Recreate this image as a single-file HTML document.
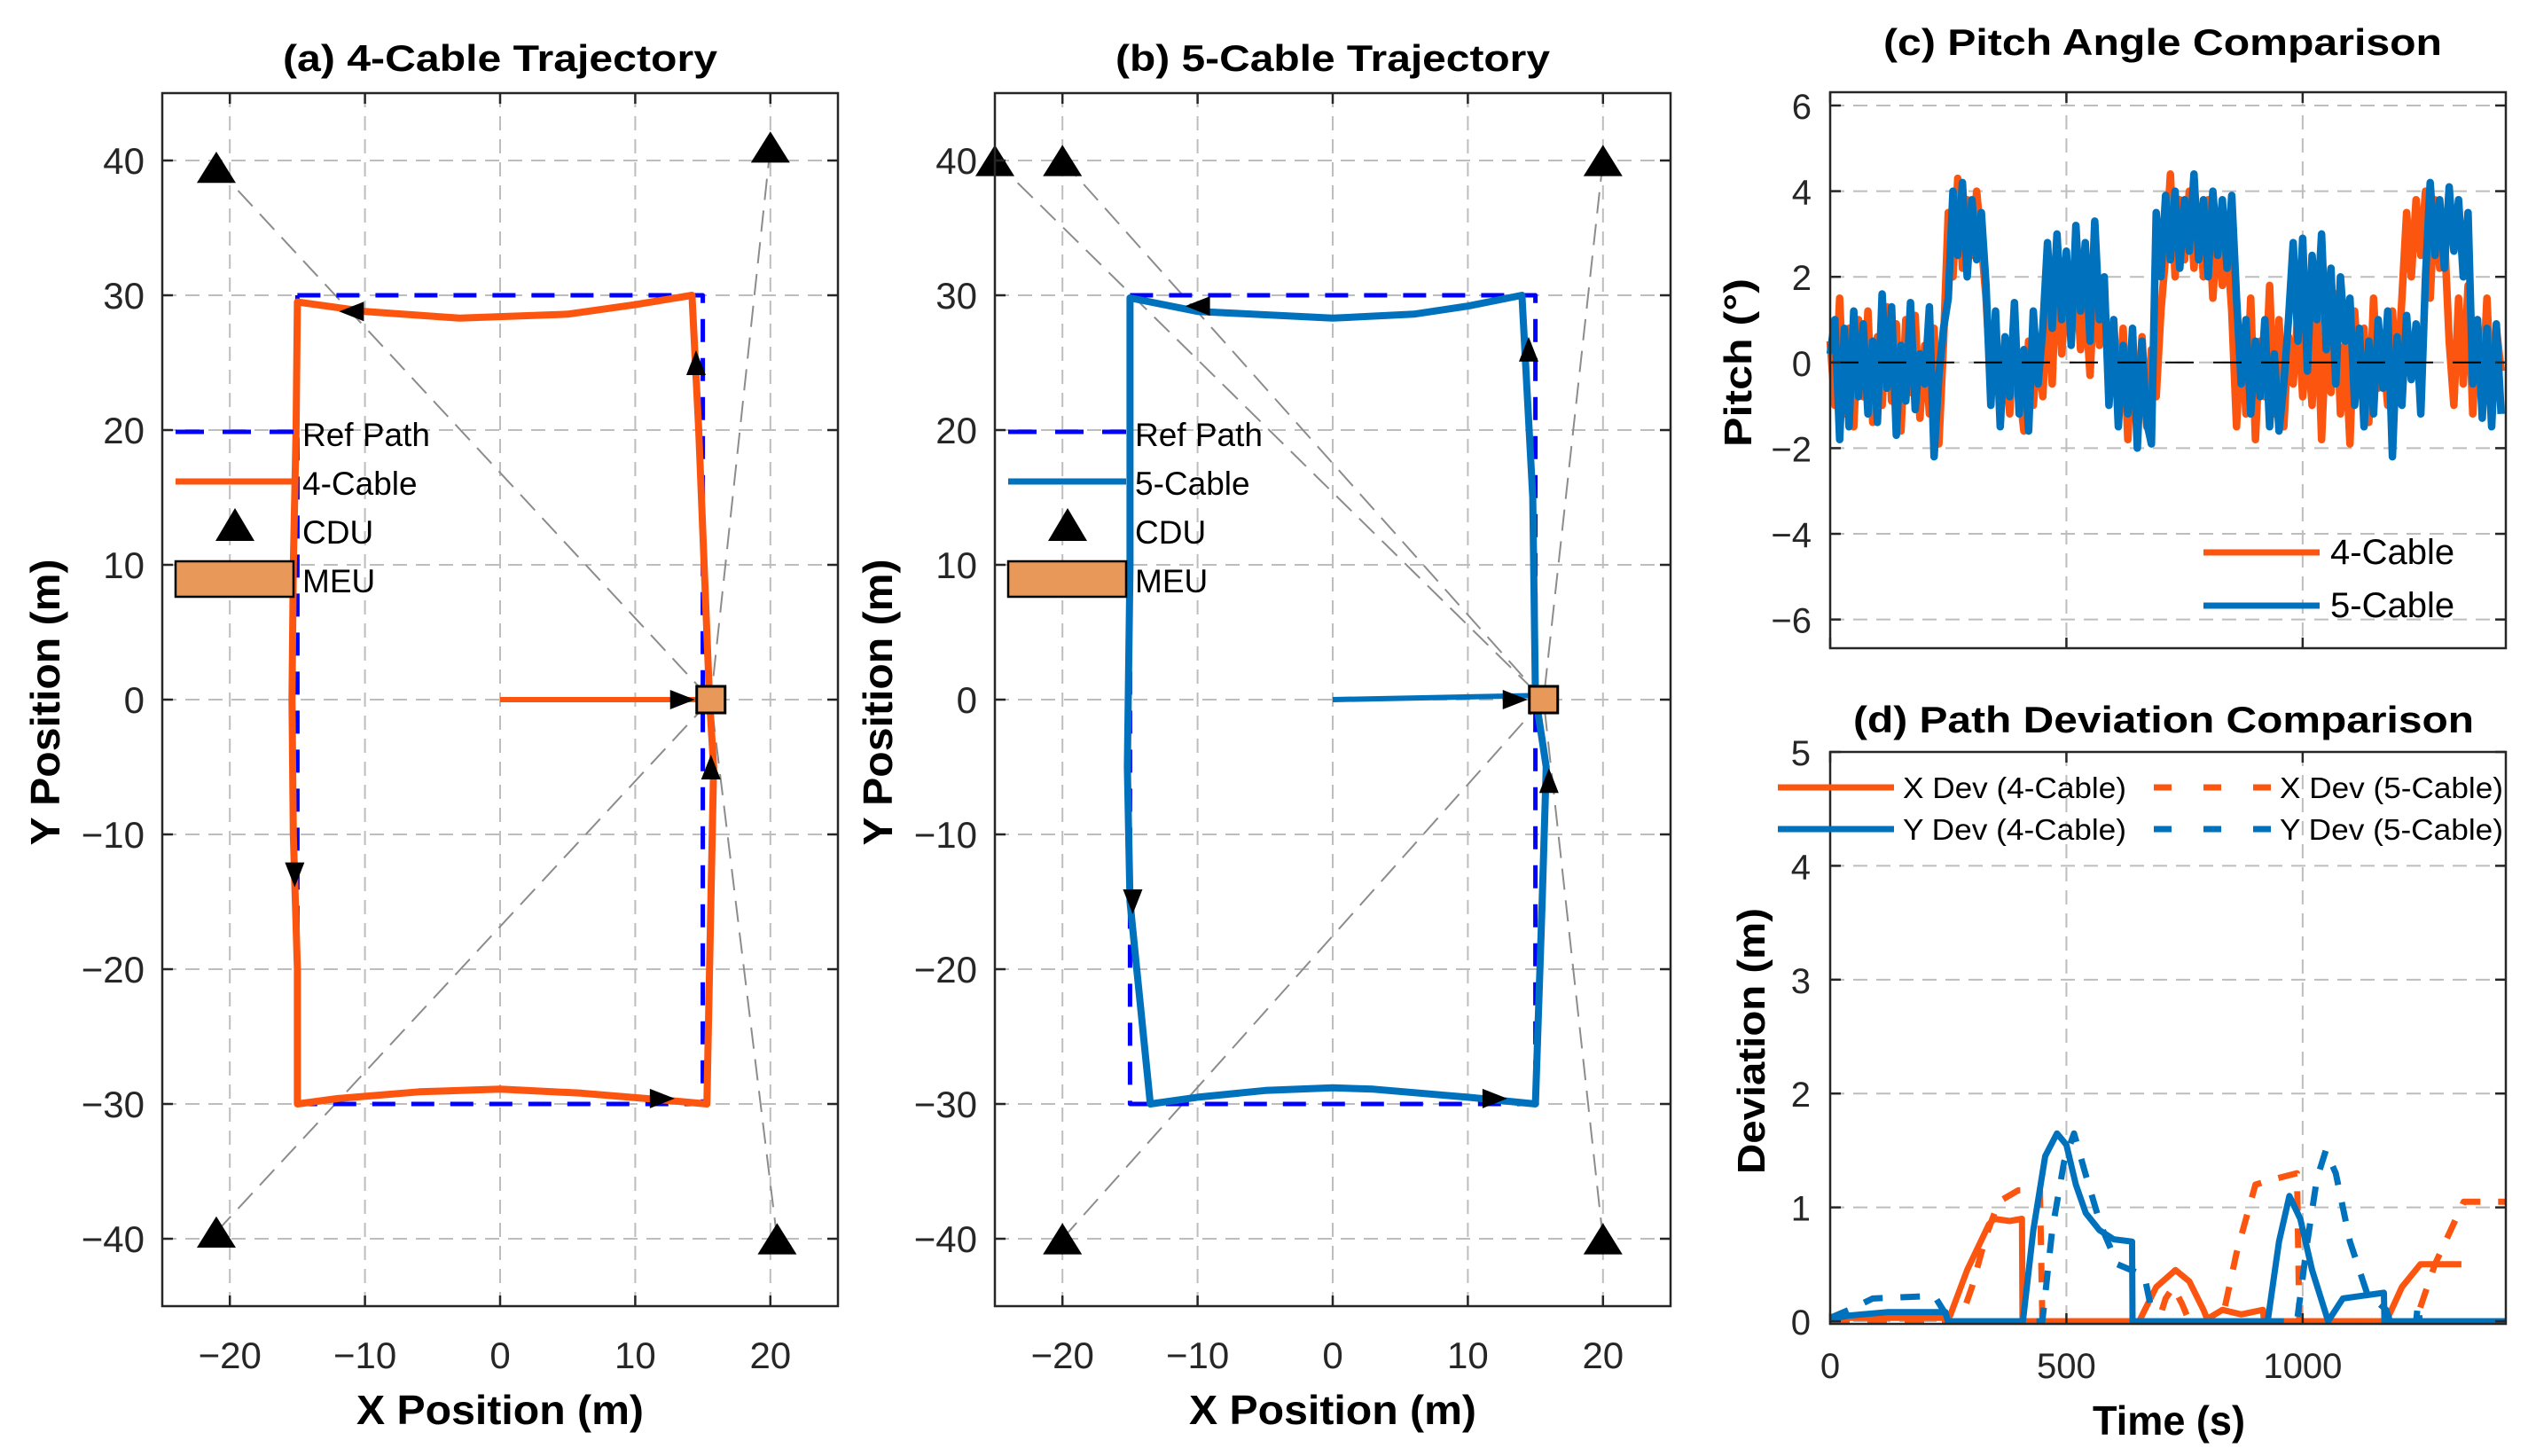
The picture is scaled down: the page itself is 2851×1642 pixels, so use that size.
<!DOCTYPE html>
<html><head><meta charset="utf-8">
<style>
html,body{margin:0;padding:0;background:#fff;}
svg{display:block;font-family:"Liberation Sans",Arial,sans-serif;}
</style></head>
<body>
<svg id="fig" xmlns="http://www.w3.org/2000/svg" width="2851" height="1642" viewBox="0 0 2851 1642"></svg>
<script>
// ---------- data ----------
const cdu4X = [-21, 20, -21, 20.5];
const cdu4Y = [39.5, 41, -39.5, -40];
const cdu5X = [-25, -20, 20, -20, 20];
const cdu5Y = [40, 40, 40, -40, -40];
const meuXY = [15.6, 0];
const refX = [-15, 15, 15, -15, -15];
const refY = [30, 30, -30, -30, 30];
const start4X = [0, 15.4];
const start4Y = [0, 0];
const traj4X = [15.5,15.8,15.6,15.3,12,6,0,-6,-12,-15,-15,-15.3,-15.4,-15.3,-15.1,-15,-10,-3,5,10,14.2,14.7,15.1,15.5];
const traj4Y = [0,-5,-15,-30,-29.7,-29.2,-28.9,-29.1,-29.6,-30,-20,-10,0,10,20,29.5,28.8,28.3,28.6,29.3,30,20,10,0];
const arr4X = [-11, 14.5, -15.2, 12, 15.6, 13.5];
const arr4Y = [28.8, 25, -13, -29.6, -5, 0];
const arr4Ang = [180, -90, 90, 0, -90, 0];
const start5X = [0, 15];
const start5Y = [0, 0.3];
const traj5X = [15,15.8,15.5,15,10,3,0,-5,-10,-13.5,-14.5,-15,-15.2,-15,-15,-10,0,6,10,14,14.8,15];
const traj5Y = [0.3,-5,-15,-30,-29.5,-28.9,-28.8,-29,-29.5,-30,-20,-15,-5,10,29.8,28.8,28.3,28.6,29.2,30,15,0.3];
const arr5X = [-10, 14.5, -14.8, 12, 16, 13.5];
const arr5Y = [29.2, 26, -15, -29.6, -6, 0];
const arr5Ang = [180, -90, 90, 0, -90, 0];

const pitchT0 = 0, pitchDt = 10;
const pitch4 = [0.5,-1,1.5,-1.2,0.8,-1.5,1,-0.8,1.2,-1.4,0.6,-1,1.3,-0.9,0.9,-1.6,1,-0.7,1.1,-1.3,0.4,-1.2,0.8,-1.9,0.5,
3.5,2,4.3,2.2,3.8,2.5,4,2.8,1.5,
-0.5,0.5,-1,0.3,-1.2,0.8,-0.6,-1.6,0.5,-1,0.4,-0.8,
1.5,-0.5,2.5,0.2,1.8,0.5,2.2,0.3,1.5,-0.3,2,0.4,1.2,-0.2,1,
-1,0.8,-1.8,0.5,-1.2,0.6,-1.5,0.3,-0.8,1.2,
2.5,4.4,2,3.8,2.4,4,2.2,3.5,2,3.8,1.5,3.2,1.8,2.8,1.2,
-1.5,0.8,-1.2,1.5,-1.8,0.5,-0.8,1.8,-1.2,1,-1.5,0.6,-0.5,1.2,-0.8,
0.5,-1,1.5,-1.8,0.8,-0.7,1.6,-1.2,0.4,-1.9,1.2,-0.5,0.8,-1.4,1.5,-0.6,0.3,-1,1.2,-0.5,
1.5,3.5,2,3.8,2.5,4,1.5,3.8,2.2,3,
0.5,-1,1.5,-0.5,1.8,-1.2,1,-0.8,1.5,-1,0.8,-0.2];
const pitch5 = [0.2,1,-1.8,0.8,-1.5,1.2,-0.8,0.9,-1.2,0.5,-1.4,1.6,-0.6,1.3,-1.7,0.4,-0.9,1.4,-1.1,0.2,-0.5,1.3,-2.2,-0.3,0.8,
1.5,4,2.5,4.2,2,3.8,2.4,3.5,1.8,
-1,1.2,-1.5,0.6,-0.8,1.4,-1.2,0.3,-1.6,1.2,-0.5,0.8,
2.8,0.8,3,1,2.6,0.4,3.2,1.2,2.8,0.5,3.3,1,2,
-1,1,-1.5,0.4,-1.2,0.8,-2,0.5,-1.4,-1.9,
3.5,2,3.9,2.4,4,2.2,3.8,2.6,4.4,2.4,3.8,2,4,2.5,3.8,2.2,3.9,1.5,
-0.5,1,-1.2,0.5,-0.8,1,-1.5,0.2,-1.6,-0.5,
1,2.8,0.5,2.9,-0.2,2.5,1,3,0.3,2.2,-0.5,2,0.5,1.5,
-1,0.8,-1.5,0.5,-1.2,1,-0.6,1.2,-2.2,0.6,-1,1.1,-0.4,0.9,-1.2,
2,4.2,2.5,3.8,2.2,4.1,2.6,3.8,2,3.5,
-0.5,1,-1.3,0.8,-1.5,0.9,-1.2];

const xd4T = [0,250,254,290,336,347,380,406,407,654,690,731,760,790,798,830,870,916,918,1177,1210,1249,1336];
const xd4V = [0.03,0.03,0.05,0.45,0.85,0.9,0.88,0.9,0,0,0.3,0.45,0.35,0.1,0.02,0.1,0.06,0.1,0,0,0.3,0.5,0.5];
const xd5T = [0,275,300,330,357,398,444,449,695,710,726,745,760,829,860,900,941,988,993,1239,1280,1341,1430];
const xd5V = [0,0,0.3,0.75,1.05,1.15,1.15,0,0,0.2,0.3,0.15,0,0,0.6,1.2,1.25,1.3,0,0,0.5,1.05,1.05];
const yd4T = [0,40,120,244,249,408,430,455,480,500,520,541,570,600,639,640,926,950,972,995,1020,1054,1085,1172,1173,1430];
const yd4V = [0.02,0.05,0.08,0.08,0,0,0.8,1.45,1.65,1.55,1.2,0.95,0.8,0.72,0.7,0,0,0.7,1.1,0.9,0.45,0,0.2,0.25,0,0];
const yd5T = [0,40,90,203,224,254,449,470,495,516,540,572,608,665,685,988,1010,1030,1049,1070,1100,1136,1177,1185,1240,1244,1248,1430];
const yd5V = [0.03,0.1,0.2,0.22,0.2,0,0,0.8,1.4,1.65,1.3,0.85,0.5,0.4,0,0,0.7,1.25,1.5,1.3,0.7,0.25,0.1,0,0,0.15,0,0];

const trajTicksX = [-20,-10,0,10,20];
const trajTicksY = [-40,-30,-20,-10,0,10,20,30,40];
const pitchTicksY = [-6,-4,-2,0,2,4,6];
const timeTicks = [0,500,1000];
const devTicksY = [0,1,2,3,4,5];

// ---------- helpers ----------
const NS = "http://www.w3.org/2000/svg";
const svg = document.getElementById('fig');
function mk(tag, attrs, parent){
  const e = document.createElementNS(NS, tag);
  for (const k in attrs) e.setAttribute(k, attrs[k]);
  (parent||svg).appendChild(e);
  return e;
}
function axis(L,R,T,B,x0,x1,y0,y1){
  return {L,R,T,B,sx:v=>L+(v-x0)/(x1-x0)*(R-L),sy:v=>B-(v-y0)/(y1-y0)*(B-T)};
}
const ORANGE="#fc5510", BLUE="#0072bd";
const A = axis(183,945,105,1473,-25,25,-45,45);
const Bp = axis(1122,1884,105,1473,-25,25,-45,45);
const C = axis(2064,2826,104,731,0,1430,-6.67,6.31);
const D = axis(2064,2826,848,1493,0,1430,-0.023,5.0);

function grid(ax, xs, ys, name){
  const g = mk('g',{});
  
  
  xs.forEach(v=>{ mk('line',{x1:ax.sx(v),x2:ax.sx(v),y1:ax.T,y2:ax.B,stroke:'#bdbdbd','stroke-width':2,'stroke-dasharray':'16 10'},g); });
  ys.forEach(v=>{ mk('line',{x1:ax.L,x2:ax.R,y1:ax.sy(v),y2:ax.sy(v),stroke:'#bdbdbd','stroke-width':2,'stroke-dasharray':'16 10'},g); });
}
function frame(ax, xs, ys, name){
  const r = mk('rect',{x:ax.L,y:ax.T,width:ax.R-ax.L,height:ax.B-ax.T,fill:'none',stroke:'#262626','stroke-width':2.5});
  
  
  const g = mk('g',{stroke:'#262626','stroke-width':2.5});
  
  
  xs.forEach(v=>{ const x=ax.sx(v); mk('line',{x1:x,x2:x,y1:ax.B,y2:ax.B-12},g); mk('line',{x1:x,x2:x,y1:ax.T,y2:ax.T+12},g); });
  ys.forEach(v=>{ const y=ax.sy(v); mk('line',{x1:ax.L,x2:ax.L+12,y1:y,y2:y},g); mk('line',{x1:ax.R,x2:ax.R-12,y1:y,y2:y},g); });
}
function fmt(v){ return v<0 ? '\u2212'+Math.abs(v) : String(v); }
function tickLabels(ax, xs, ys, xBase, yRight, name, fs){
  xs.forEach(v=>{
    const t = mk('text',{x:ax.sx(v),y:xBase,'font-size':fs,'text-anchor':'middle',fill:'#262626'});
    t.textContent = fmt(v);
    
    
  });
  ys.forEach(v=>{
    const t = mk('text',{x:yRight,y:ax.sy(v)+15,'font-size':fs,'text-anchor':'end',fill:'#262626'});
    t.textContent = fmt(v);
    
    
  });
}
function label(txt,x,y,fs,len,rot,name,weight){
  const t = mk('text',{x:x,y:y,'font-size':fs,'font-weight':weight||'bold','text-anchor':'middle',fill:'#000',textLength:len,lengthAdjust:'spacingAndGlyphs'});
  if(rot) t.setAttribute('transform','rotate(-90 '+x+' '+y+')');
  t.textContent = txt;
  
  
  return t;
}
function poly(ax, xs, ys, attrs, name){
  const pts = xs.map((x,i)=>ax.sx(x).toFixed(1)+','+ax.sy(ys[i]).toFixed(1)).join(' ');
  const a = Object.assign({points:pts,fill:'none','stroke-linejoin':'round'},attrs);
  const p = mk('polyline',a);
  
  
  return p;
}
function tri(cx,cy,w,name){
  const h=w*0.8;
  const p = mk('polygon',{points:(cx-w/2)+','+(cy+h/2)+' '+(cx+w/2)+','+(cy+h/2)+' '+cx+','+(cy-h/2),fill:'#000'});
  
  
}
function arrow(cx,cy,ang,name){
  const p = mk('polygon',{points:'14,0 -14,-11 -14,11',fill:'#000',transform:'translate('+cx+' '+cy+') rotate('+ang+')'});
  
  
}

// ---------- trajectory panels ----------
function trajPanel(ax, name, cdX, cdY, stX, stY, trX, trY, arX, arY, arA, color, title, legLabel){
  grid(ax, trajTicksX, trajTicksY, name);
  cdX.forEach((x,i)=>{
    const l = mk('line',{x1:ax.sx(x),y1:ax.sy(cdY[i]),x2:ax.sx(meuXY[0]),y2:ax.sy(meuXY[1]),stroke:'#8c8c8c','stroke-width':2,'stroke-dasharray':'24 12'});
    
    
  });
  poly(ax, refX, refY, {stroke:'#0000ff','stroke-width':5,'stroke-dasharray':'26 18'}, name+'-ref-path');
  poly(ax, stX, stY, {stroke:color,'stroke-width':6}, name+'-start-segment');
  poly(ax, trX, trY, {stroke:color,'stroke-width':8}, name+'-trajectory');
  arX.forEach((x,i)=>arrow(ax.sx(x),ax.sy(arY[i]),arA[i],name+'-direction-arrow'));
  cdX.forEach((x,i)=>tri(ax.sx(x),ax.sy(cdY[i]),44,name+'-cdu-marker'));
  const m = mk('rect',{x:ax.sx(meuXY[0])-16,y:ax.sy(meuXY[1])-15,width:32,height:30,fill:'#e8995a',stroke:'#000','stroke-width':3});
  
  
  const lg = mk('g',{});
  
  
  const L0 = ax.L+15, L1 = ax.L+148, tx = ax.L+158;
  mk('line',{x1:L0,x2:L1,y1:487,y2:487,stroke:'#0000ff','stroke-width':5,'stroke-dasharray':'32 21'},lg);
  mk('line',{x1:L0,x2:L1,y1:543,y2:543,stroke:color,'stroke-width':7},lg);
  mk('polygon',{points:(ax.L+60)+',610 '+(ax.L+104)+',610 '+(ax.L+82)+',573',fill:'#000'},lg);
  mk('rect',{x:L0,y:633,width:L1-L0,height:40,fill:'#e8995a',stroke:'#000','stroke-width':2.5},lg);
  [['Ref Path',503],[legLabel,558],['CDU',613],['MEU',668]].forEach(a=>{
    const t = mk('text',{x:tx,y:a[1],'font-size':37,fill:'#000'},lg);
    t.textContent=a[0];
  });
  frame(ax, trajTicksX, trajTicksY, name);
  tickLabels(ax, trajTicksX, trajTicksY, 1543, ax.L-20, name, 42);
  label(title,(ax.L+ax.R)/2,80,42,490,false,name+'-title');
  label('X Position (m)',(ax.L+ax.R)/2,1606,46,324,false,name+'-x-axis-title');
  label('Y Position (m)',ax.L-116,792,46,323,true,name+'-y-axis-title');
}
trajPanel(A,'panel-a',cdu4X,cdu4Y,start4X,start4Y,traj4X,traj4Y,arr4X,arr4Y,arr4Ang,ORANGE,'(a) 4-Cable Trajectory','4-Cable');
trajPanel(Bp,'panel-b',cdu5X,cdu5Y,start5X,start5Y,traj5X,traj5Y,arr5X,arr5Y,arr5Ang,BLUE,'(b) 5-Cable Trajectory','5-Cable');

// ---------- pitch panel ----------
grid(C, timeTicks, pitchTicksY, 'panel-c');
const pT = pitch4.map((v,i)=>pitchT0+i*pitchDt);
poly(C, pT, pitch4, {stroke:ORANGE,'stroke-width':8.5}, 'pitch-4-cable-line');
poly(C, pT, pitch5, {stroke:BLUE,'stroke-width':8.5}, 'pitch-5-cable-line');
const z = mk('line',{x1:C.L,x2:C.R,y1:C.sy(0),y2:C.sy(0),stroke:'#000','stroke-width':2,'stroke-dasharray':'32 22'});


frame(C, timeTicks, pitchTicksY, 'panel-c');
tickLabels(C, [], pitchTicksY, 0, 2043, 'panel-c', 40);
label('(c) Pitch Angle Comparison',2439,62,42,630,false,'panel-c-title');
label('Pitch (°)',1975,409,44,190,true,'panel-c-y-axis-title');
const pl = mk('g',{});


mk('line',{x1:2485,x2:2616,y1:623,y2:623,stroke:ORANGE,'stroke-width':7},pl);
mk('line',{x1:2485,x2:2616,y1:683,y2:683,stroke:BLUE,'stroke-width':7},pl);
[['4-Cable',636],['5-Cable',696]].forEach(a=>{ const t=mk('text',{x:2628,y:a[1],'font-size':40,fill:'#000'},pl); t.textContent=a[0]; });

// ---------- deviation panel ----------
grid(D, timeTicks, devTicksY, 'panel-d');
poly(D, xd4T, xd4V, {stroke:ORANGE,'stroke-width':7}, 'x-dev-4-cable-line');
poly(D, xd5T, xd5V, {stroke:ORANGE,'stroke-width':7,'stroke-dasharray':'22 20'}, 'x-dev-5-cable-line');
poly(D, yd4T, yd4V, {stroke:BLUE,'stroke-width':7}, 'y-dev-4-cable-line');
poly(D, yd5T, yd5V, {stroke:BLUE,'stroke-width':7,'stroke-dasharray':'22 20'}, 'y-dev-5-cable-line');
frame(D, timeTicks, devTicksY, 'panel-d');
tickLabels(D, timeTicks, devTicksY, 1554, 2042, 'panel-d', 40);
label('(d) Path Deviation Comparison',2440,826,42,700,false,'panel-d-title');
label('Deviation (m)',1990,1174,44,300,true,'panel-d-y-axis-title');
label('Time (s)',2446,1618,46,172,false,'panel-d-x-axis-title');
const dl = mk('g',{});


mk('line',{x1:2005,x2:2136,y1:888,y2:888,stroke:ORANGE,'stroke-width':7},dl);
mk('line',{x1:2005,x2:2136,y1:935,y2:935,stroke:BLUE,'stroke-width':7},dl);
mk('line',{x1:2429,x2:2561,y1:888,y2:888,stroke:ORANGE,'stroke-width':7,'stroke-dasharray':'20 36'},dl);
mk('line',{x1:2429,x2:2561,y1:935,y2:935,stroke:BLUE,'stroke-width':7,'stroke-dasharray':'20 36'},dl);
[['X Dev (4-Cable)',2146,900],['Y Dev (4-Cable)',2146,947],['X Dev (5-Cable)',2571,900],['Y Dev (5-Cable)',2571,947]].forEach(a=>{
  const t=mk('text',{x:a[1],y:a[2],'font-size':33,fill:'#000',textLength:252,lengthAdjust:'spacingAndGlyphs'},dl); t.textContent=a[0];
});
</script>
</body></html>
